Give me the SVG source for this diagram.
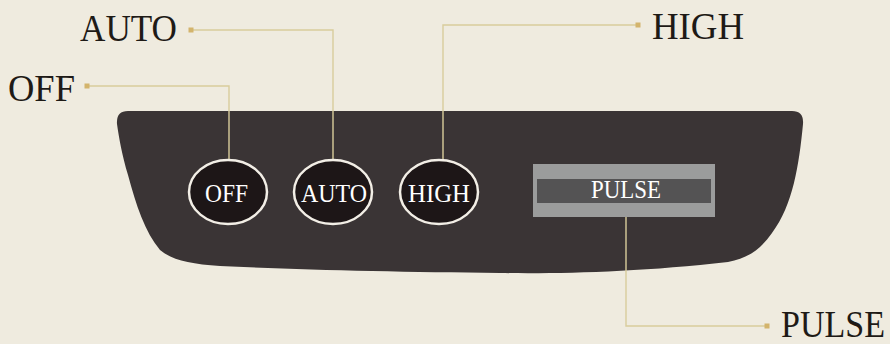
<svg xmlns="http://www.w3.org/2000/svg" width="890" height="344" viewBox="0 0 890 344">
<style>
.lbl{font-family:"Liberation Serif","Times New Roman",serif;font-size:37px;fill:#1e1a16}
.btxt{font-family:"Liberation Serif","Times New Roman",serif;font-size:25px;fill:#ffffff}
.btn{fill:#1d1617;stroke:#f2eee6;stroke-width:2.5}
.conn{fill:none;stroke:#d9cd9c;stroke-width:1.4}
.dot{fill:#d3b46c}
</style>
<rect width="890" height="344" fill="#efebdf"/>
<g id="panel">
<path d="M128,111 L792,111 Q804,111 803,124 C799,165 793,205 772,233 C760,250 748,258 728,262 C640,272 560,274 500,273 C400,272 300,270 220,266 C190,264 172,260 160,250 C145,232 136,205 128,175 C122,155 119,138 117,124 Q116,111 128,111 Z" fill="#3a3435"/>
</g>
<g id="connectors">
<polyline class="conn" points="87,86 229,86 229,160"/>
<polyline class="conn" points="191,30 333,30 333,160"/>
<polyline class="conn" points="638,25 443,25 443,160"/>
<polyline class="conn" points="626,217 626,326 767,326"/>
<rect class="dot" x="764.5" y="323.5" width="5" height="5"/>
<rect class="dot" x="84.5" y="83.5" width="5" height="5"/>
<rect class="dot" x="188.5" y="27.5" width="5" height="5"/>
<rect class="dot" x="635.5" y="22.5" width="5" height="5"/>
</g>
<g id="btn-off">
<ellipse class="btn" cx="228" cy="192" rx="39" ry="32"/>
<text class="btxt" x="205" y="202" textLength="43" lengthAdjust="spacingAndGlyphs">OFF</text>
</g>
<g id="btn-auto">
<ellipse class="btn" cx="333" cy="192" rx="39" ry="32"/>
<text class="btxt" x="301" y="202" textLength="66" lengthAdjust="spacingAndGlyphs">AUTO</text>
</g>
<g id="btn-high">
<ellipse class="btn" cx="439" cy="192" rx="39" ry="32"/>
<text class="btxt" x="408" y="202" textLength="62" lengthAdjust="spacingAndGlyphs">HIGH</text>
</g>
<g id="btn-pulse">
<rect x="533" y="164" width="182" height="53" fill="#9b9c9c"/>
<rect x="537" y="179" width="174" height="24" fill="#545354"/>
<text class="btxt" x="591" y="198" textLength="70" lengthAdjust="spacingAndGlyphs">PULSE</text>
</g>
<g id="label-off"><text class="lbl" x="8" y="101" textLength="67" lengthAdjust="spacingAndGlyphs">OFF</text></g>
<g id="label-auto"><text class="lbl" x="80" y="41" textLength="97" lengthAdjust="spacingAndGlyphs">AUTO</text></g>
<g id="label-high"><text class="lbl" x="652" y="39" textLength="92" lengthAdjust="spacingAndGlyphs">HIGH</text></g>
<g id="label-pulse"><text class="lbl" x="885" y="337" font-size="33" text-anchor="end" textLength="104" lengthAdjust="spacingAndGlyphs">PULSE</text></g>
</svg>
